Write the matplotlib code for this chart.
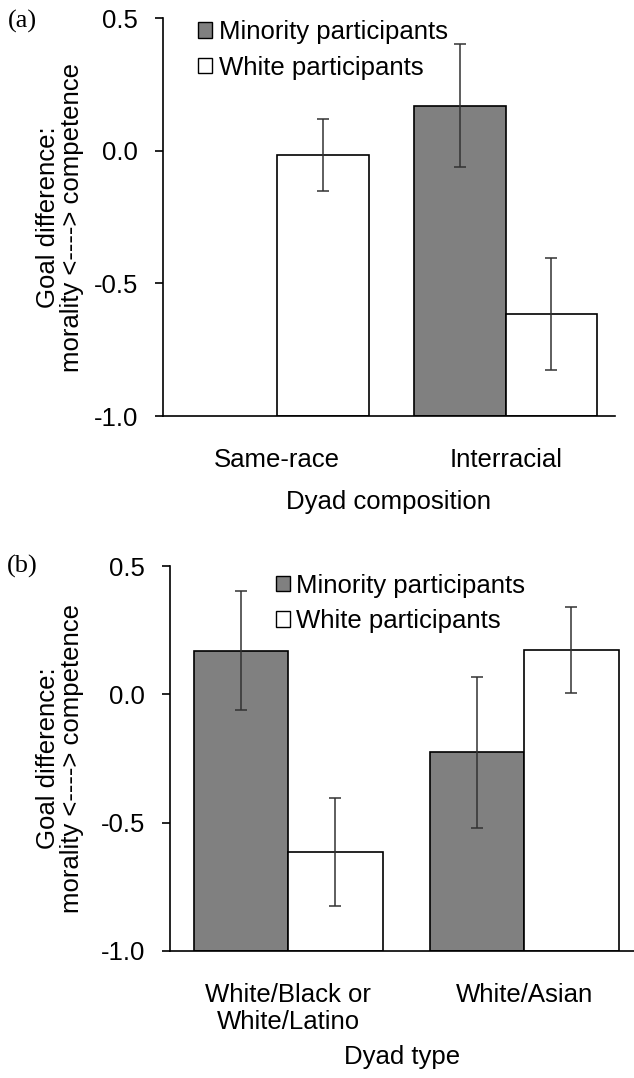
import matplotlib.pyplot as plt
import numpy as np
from matplotlib.patches import Patch

plt.rcParams['font.family'] = ['Liberation Sans', 'DejaVu Sans']

# panel (a): dyad composition
a_groups = ["Same-race", "Interracial"]
a_minority = [np.nan, 0.17]
a_minority_err = [np.nan, 0.232]
a_white = [-0.015, -0.615]
a_white_err = [0.136, 0.21]

# panel (b): dyad type
b_groups = ["White/Black or\nWhite/Latino", "White/Asian"]
b_minority = [0.17, -0.226]
b_minority_err = [0.232, 0.295]
b_white = [-0.614, 0.173]
b_white_err = [0.21, 0.166]

y_ticks = [0.5, 0.0, -0.5, -1.0]
ylabel = "Goal difference:\nmorality <----> competence"
series_names = ["Minority participants", "White participants"]
series_colors = ["#808080", "white"]

FS = 18.5
W, H = 634, 1078
fig = plt.figure(figsize=(W / 100, H / 100), dpi=100)


def draw_panel(ax, groups, mino, mino_err, white, white_err, xlab, xmax,
               leg_x, leg_y, ylab_x, xlab_y):
    x = np.arange(len(groups))
    w = 0.4
    base = -1.0
    for vals, errs, off, col in [(mino, mino_err, -w / 2, series_colors[0]),
                                 (white, white_err, w / 2, series_colors[1])]:
        vals = np.array(vals, dtype=float)
        errs = np.array(errs, dtype=float)
        ok = ~np.isnan(vals)
        ax.bar(x[ok] + off, vals[ok] - base, bottom=base, width=w,
               color=col, edgecolor="black", linewidth=1.2, zorder=2)
        ax.errorbar(x[ok] + off, vals[ok], yerr=errs[ok], fmt="none",
                    ecolor="#333333", elinewidth=1.1, capsize=4.5,
                    capthick=1.1, zorder=3)

    ax.set_xlim(-0.5, xmax)
    ax.set_ylim(-1.0, 0.5)
    ax.set_yticks(y_ticks)
    ax.set_yticklabels(["%.1f" % t for t in y_ticks])
    ax.set_xticks(x)
    ax.set_xticklabels(groups, linespacing=1.15)
    ax.tick_params(axis="x", length=0, pad=23, labelsize=FS)
    ax.tick_params(axis="y", direction="out", length=6, width=1.2,
                   pad=12, labelsize=FS)
    for s in ["top", "right"]:
        ax.spines[s].set_visible(False)
    for s in ["left", "bottom"]:
        ax.spines[s].set_linewidth(1.2)
    ax.spines["left"].set_zorder(4)

    ax.set_ylabel(ylabel, fontsize=FS, linespacing=1.0)
    ax.yaxis.set_label_coords(ylab_x, 0.5)
    ax.set_xlabel(xlab, fontsize=FS)
    ax.xaxis.set_label_coords(0.5, xlab_y)

    handles = [Patch(facecolor=c, edgecolor="black", linewidth=1.0)
               for c in series_colors]
    ax.legend(handles, series_names, loc="upper left",
              bbox_to_anchor=(leg_x, leg_y), frameon=False, fontsize=FS,
              handlelength=0.55, handleheight=0.55, handletextpad=0.25,
              labelspacing=0.45, borderpad=0, borderaxespad=0)


# panel (a) axes: x 163..615, y 18..416 px
ax1 = fig.add_axes([163 / W, 1 - 416 / H, (615 - 163) / W, (416 - 18) / H])
draw_panel(ax1, a_groups, a_minority, a_minority_err, a_white, a_white_err,
           "Dyad composition", 1.478, 0.078, 0.995, (84 - 163) / 452, -0.185)

# panel (b) axes: x 170..634, y 566..951 px
ax2 = fig.add_axes([170 / W, 1 - 951 / H, (634 - 170) / W, (951 - 566) / H])
draw_panel(ax2, b_groups, b_minority, b_minority_err, b_white, b_white_err,
           "Dyad type", 1.465, 0.228, 0.98, (84 - 170) / 464, -0.245)

fig.text(8 / W, 1 - 21 / H, "(a)", family="Liberation Serif", fontsize=19,
         va="center", ha="left")
fig.text(7 / W, 1 - 566 / H, "(b)", family="Liberation Serif", fontsize=19,
         va="center", ha="left")

fig.savefig("out.png", dpi=100)
